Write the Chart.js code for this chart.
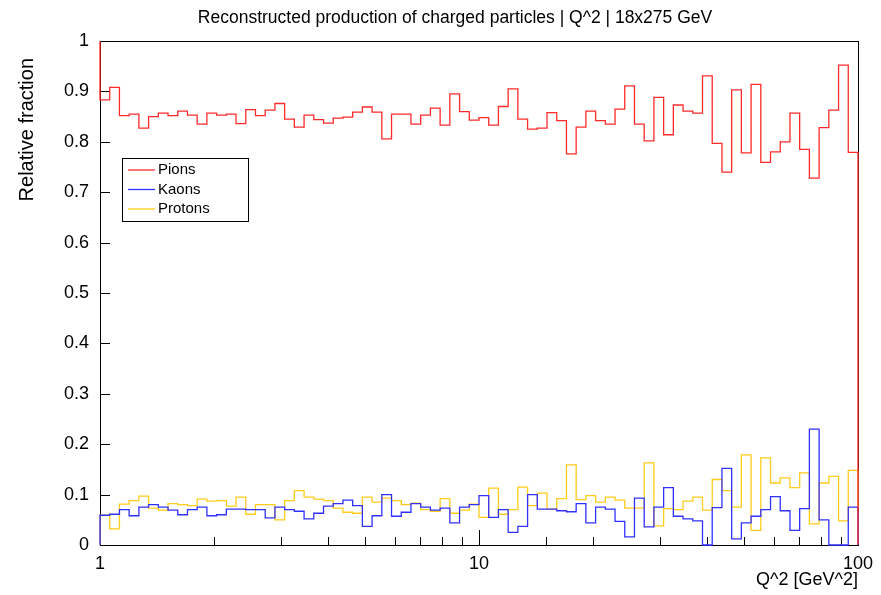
<!DOCTYPE html>
<html>
<head>
<meta charset="utf-8">
<script src="https://cdn.jsdelivr.net/npm/chart.js@4.4.1/dist/chart.umd.min.js"></script>
<style>
  html, body { margin: 0; padding: 0; background: #fff; }
</style>
</head>
<body>
<canvas id="chart" width="881" height="595"></canvas>
<script>
// --- data (78 log-spaced bins from Q^2 = 1 to 100) ---
const plotTitle = 'Reconstructed production of charged particles | Q^2 | 18x275 GeV';
const xTitle = 'Q^2 [GeV^2]';
const yTitle = 'Relative fraction';
const seriesNames = ['Pions', 'Kaons', 'Protons'];
const seriesColors = ['#ff2a2a', '#3030ff', '#ffcc1a'];

const xMin = 1;
const xMax = 100;
const nBins = 78;

const pions = [
  0.883, 0.908, 0.852, 0.855, 0.827, 0.850, 0.857, 0.852, 0.861, 0.853,
  0.835, 0.857, 0.853, 0.855, 0.836, 0.864, 0.852, 0.863, 0.876, 0.845,
  0.829, 0.853, 0.844, 0.837, 0.847, 0.849, 0.859, 0.869, 0.859, 0.806,
  0.855, 0.855, 0.835, 0.853, 0.867, 0.833, 0.895, 0.860, 0.843, 0.848,
  0.833, 0.870, 0.905, 0.845, 0.825, 0.827, 0.858, 0.842, 0.776, 0.829,
  0.861, 0.842, 0.835, 0.865, 0.911, 0.835, 0.802, 0.888, 0.814, 0.873,
  0.861, 0.857, 0.931, 0.797, 0.740, 0.903, 0.778, 0.914, 0.759, 0.780,
  0.800, 0.857, 0.785, 0.728, 0.828, 0.863, 0.952, 0.779
];
const kaons = [
  0.059, 0.061, 0.070, 0.058, 0.075, 0.080, 0.075, 0.069, 0.060, 0.070,
  0.075, 0.058, 0.060, 0.071, 0.071, 0.070, 0.070, 0.054, 0.075, 0.070,
  0.067, 0.052, 0.063, 0.077, 0.082, 0.089, 0.078, 0.037, 0.058, 0.100,
  0.057, 0.065, 0.082, 0.075, 0.069, 0.073, 0.044, 0.075, 0.080, 0.098,
  0.055, 0.070, 0.025, 0.037, 0.100, 0.071, 0.071, 0.068, 0.066, 0.082,
  0.044, 0.075, 0.071, 0.047, 0.016, 0.093, 0.036, 0.075, 0.114, 0.057,
  0.052, 0.048, 0.000, 0.074, 0.152, 0.012, 0.044, 0.057, 0.070, 0.096,
  0.068, 0.029, 0.072, 0.230, 0.050, 0.000, 0.000, 0.075
];
const protons = [
  0.059, 0.032, 0.081, 0.088, 0.097, 0.073, 0.069, 0.082, 0.080, 0.078,
  0.091, 0.087, 0.088, 0.077, 0.095, 0.061, 0.080, 0.080, 0.050, 0.088,
  0.108, 0.095, 0.091, 0.088, 0.073, 0.065, 0.063, 0.095, 0.085, 0.093,
  0.088, 0.080, 0.083, 0.070, 0.067, 0.092, 0.063, 0.069, 0.081, 0.055,
  0.113, 0.061, 0.070, 0.115, 0.078, 0.103, 0.071, 0.092, 0.159, 0.090,
  0.098, 0.085, 0.095, 0.089, 0.073, 0.073, 0.163, 0.038, 0.072, 0.070,
  0.087, 0.095, 0.069, 0.130, 0.108, 0.075, 0.179, 0.029, 0.173, 0.123,
  0.133, 0.114, 0.143, 0.042, 0.123, 0.136, 0.048, 0.148
];
// bins just outside the frame (only their edges show at Q^2 = 1 and 100)
const underflow = [1.0, 0.0, 0.0];
const overflow = [0.0, 0.0, 0.0];

const yTickValues = [0, 0.1, 0.2, 0.3, 0.4, 0.5, 0.6, 0.7, 0.8, 0.9, 1];
const xLabelValues = [1, 10, 100];

// --- build step-histogram points ---
function binEdge(i) {
  const lo = Math.log10(xMin), hi = Math.log10(xMax);
  return Math.pow(10, lo + i * (hi - lo) / nBins);
}

function histPoints(values, under, over) {
  const pts = [{ x: xMin, y: under }];
  values.forEach((v, i) => pts.push({ x: binEdge(i), y: v }));
  pts.push({ x: xMax, y: values[values.length - 1] });
  pts.push({ x: xMax, y: over });
  return pts;
}

const allSeries = [pions, kaons, protons];

const FONT = "'Liberation Sans', Arial, Helvetica, sans-serif";

// ROOT-like frame with inside ticks (drawn under the histograms)
const rootFrame = {
  id: 'rootFrame',
  beforeDatasetsDraw(chart) {
    const ctx = chart.ctx;
    const a = chart.chartArea;
    const xs = chart.scales.x;
    const ys = chart.scales.y;
    ctx.save();
    ctx.strokeStyle = '#000';
    ctx.lineWidth = 1;
    ctx.strokeRect(Math.round(a.left) + 0.5, Math.round(a.top) + 0.5,
      Math.round(a.right - a.left), Math.round(a.bottom - a.top));

    ctx.beginPath();
    xs.ticks.forEach(t => {
      const px = Math.round(xs.getPixelForValue(t.value)) + 0.5;
      const lg = Math.log10(t.value);
      const major = Math.abs(lg - Math.round(lg)) < 1e-6;
      ctx.moveTo(px, a.bottom);
      ctx.lineTo(px, a.bottom - (major ? 15 : 8));
    });
    ys.ticks.forEach(t => {
      const py = Math.round(ys.getPixelForValue(t.value)) + 0.5;
      ctx.moveTo(a.left, py);
      ctx.lineTo(a.left + 10, py);
    });
    ctx.stroke();
    ctx.restore();
  }
};

// titles and the boxed legend
const rootText = {
  id: 'rootText',
  afterDraw(chart) {
    const ctx = chart.ctx;
    const a = chart.chartArea;
    ctx.save();
    ctx.fillStyle = '#000';
    ctx.textBaseline = 'middle';

    ctx.font = '17.5px ' + FONT;
    ctx.textAlign = 'center';
    ctx.fillText(plotTitle, 455, 18);

    ctx.font = '18px ' + FONT;
    ctx.textAlign = 'right';
    ctx.fillText(xTitle, a.right, 580);

    ctx.save();
    ctx.translate(27, 58);
    ctx.rotate(-Math.PI / 2);
    ctx.font = '20px ' + FONT;
    ctx.textAlign = 'right';
    ctx.fillText(yTitle, 0, 0);
    ctx.restore();

    const lx = 122, ly = 158, lw = 126, lh = 63;
    ctx.fillStyle = '#fff';
    ctx.fillRect(lx, ly, lw, lh);
    ctx.strokeStyle = '#000';
    ctx.lineWidth = 1;
    ctx.strokeRect(lx + 0.5, ly + 0.5, lw, lh);
    ctx.font = '15px ' + FONT;
    ctx.textAlign = 'left';
    chart.data.datasets.forEach((ds, i) => {
      const y = ly + 12 + i * 19.5;
      ctx.strokeStyle = ds.borderColor;
      ctx.lineWidth = 1.3;
      ctx.beginPath();
      ctx.moveTo(lx + 6, y);
      ctx.lineTo(lx + 33, y);
      ctx.stroke();
      ctx.fillStyle = '#000';
      ctx.fillText(ds.label, lx + 36, y);
    });
    ctx.restore();
  }
};

new Chart(document.getElementById('chart'), {
  type: 'line',
  data: {
    datasets: allSeries.map((vals, i) => ({
      label: seriesNames[i],
      data: histPoints(vals, underflow[i], overflow[i]),
      borderColor: seriesColors[i],
      borderWidth: 1.3,
      pointRadius: 0,
      fill: false,
      stepped: 'before',
      tension: 0,
      clip: 3
    }))
  },
  options: {
    responsive: false,
    animation: false,
    devicePixelRatio: 1,
    layout: { padding: { left: 10, right: 21, top: 41, bottom: 5 } },
    plugins: {
      legend: { display: false },
      title: { display: false },
      tooltip: { enabled: false }
    },
    scales: {
      x: {
        type: 'logarithmic',
        min: xMin,
        max: xMax,
        grid: { display: false, drawTicks: false },
        border: { display: false },
        ticks: {
          autoSkip: false,
          maxRotation: 0,
          padding: 8,
          color: '#000',
          font: { family: FONT, size: 18 },
          callback: v => xLabelValues.includes(v) ? String(v) : ''
        },
        afterFit: s => { s.height = 45; }
      },
      y: {
        min: 0,
        max: 1,
        grid: { display: false, drawTicks: false },
        border: { display: false },
        afterBuildTicks: s => { s.ticks = yTickValues.map(v => ({ value: v })); },
        ticks: {
          padding: 11,
          color: '#000',
          font: { family: FONT, size: 18 },
          callback: v => (v === 0 || v === 1) ? String(v) : v.toFixed(1)
        },
        afterFit: s => { s.width = 90; }
      }
    }
  },
  plugins: [rootFrame, rootText]
});
</script>
</body>
</html>
